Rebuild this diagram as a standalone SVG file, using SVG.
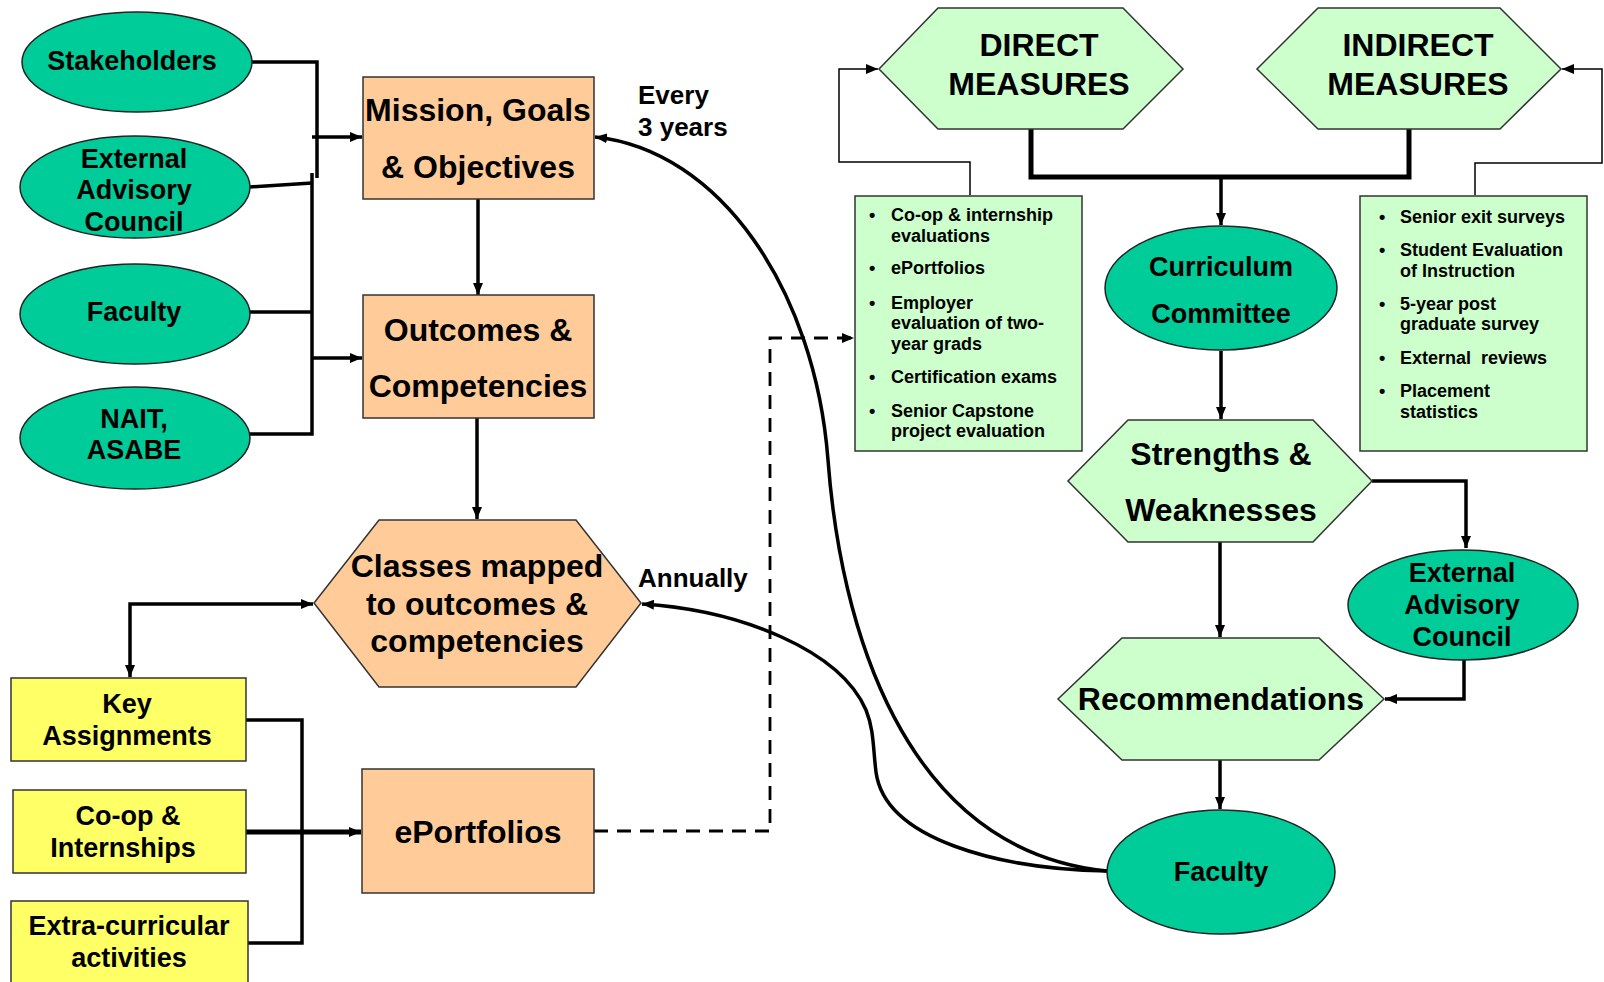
<svg xmlns="http://www.w3.org/2000/svg" width="1604" height="982" viewBox="0 0 1604 982">
<defs>
<style>
.t{font-family:"Liberation Sans",Arial,sans-serif;font-weight:bold;fill:#000;text-anchor:middle}
.l{font-family:"Liberation Sans",Arial,sans-serif;font-weight:bold;fill:#000;font-size:18px}
.lb{font-family:"Liberation Sans",Arial,sans-serif;font-weight:bold;fill:#000;font-size:26px}
.teal{fill:#00CC99;stroke:#222;stroke-width:1.5}
.peach{fill:#FFCC99;stroke:#333;stroke-width:1.5}
.green{fill:#CCFFCC;stroke:#333;stroke-width:1.5}
.yellow{fill:#FFFF66;stroke:#333;stroke-width:1.5}
.c{stroke:#000;stroke-width:3.5;fill:none}
.ck{stroke:#000;stroke-width:5;fill:none}
.cn{stroke:#000;stroke-width:1.5;fill:none}
.cd{stroke:#000;stroke-width:2.8;fill:none;stroke-dasharray:14 9}
</style>
<marker id="ah" viewBox="0 0 12 10" refX="12" refY="5" markerWidth="12" markerHeight="10" markerUnits="userSpaceOnUse" orient="auto-start-reverse">
<path d="M0,0 L12,5 L0,10 z" fill="#000"/>
</marker>
</defs>
<rect width="1604" height="982" fill="#fff"/>

<g id="connectors">
<polyline class="c" points="252,62 317,62 317,178"/>
<polyline class="c" points="250,187 312,183"/>
<line class="c" x1="250" y1="312" x2="312" y2="312"/>
<polyline class="c" points="250,434 312,434 312,173"/>
<line class="c" x1="312" y1="137" x2="362" y2="137" marker-end="url(#ah)"/>
<line class="c" x1="312" y1="358" x2="362" y2="358" marker-end="url(#ah)"/>
<line class="c" x1="478" y1="199" x2="478" y2="295" marker-end="url(#ah)"/>
<line class="c" x1="477" y1="418" x2="477" y2="519" marker-end="url(#ah)"/>
<polyline class="c" points="130,677 130,604 313,604" marker-start="url(#ah)" marker-end="url(#ah)"/>
<polyline class="c" points="246,720 302,720 302,943 248,943"/>
<line class="ck" x1="246" y1="832" x2="361" y2="832" marker-end="url(#ah)"/>
<polyline class="cd" points="594,831 770,831 770,338 854,338" marker-end="url(#ah)"/>
<polyline class="ck" points="1031,129 1031,177 1409,177 1409,129"/>
<line class="c" x1="1221" y1="177" x2="1221" y2="225" marker-end="url(#ah)"/>
<line class="c" x1="1221" y1="351" x2="1221" y2="419" marker-end="url(#ah)"/>
<polyline class="c" points="1372,481 1466,481 1466,548" marker-end="url(#ah)"/>
<line class="c" x1="1220" y1="542" x2="1220" y2="637" marker-end="url(#ah)"/>
<polyline class="c" points="1464,660 1464,699 1385,699" marker-end="url(#ah)"/>
<line class="c" x1="1220" y1="760" x2="1220" y2="809" marker-end="url(#ah)"/>
<polyline class="cn" points="970,195 970,162 839,162 839,69 878,69" marker-end="url(#ah)"/>
<polyline class="cn" points="1475,195 1475,163 1602,163 1602,69 1562,69" marker-end="url(#ah)"/>
<path class="c" d="M1107,871 C900,850 840,620 828,460 C815,290 720,150 595,137" marker-end="url(#ah)"/>
<path class="c" d="M1107,871 C1000,869 885,840 876,772 C873,748 874,730 866,710 C840,650 740,610 642,604" marker-end="url(#ah)"/>
</g>

<g id="stakeholders">
<ellipse class="teal" cx="137" cy="62" rx="115" ry="50"/>
<text class="t" x="132" y="70" font-size="27">Stakeholders</text>
</g>
<g id="eac-left">
<ellipse class="teal" cx="135" cy="187" rx="115" ry="51"/>
<text class="t" x="134" y="168" font-size="27">External</text>
<text class="t" x="134" y="199" font-size="27">Advisory</text>
<text class="t" x="134" y="231" font-size="27">Council</text>
</g>
<g id="faculty-left">
<ellipse class="teal" cx="135" cy="314" rx="115" ry="50"/>
<text class="t" x="134" y="321" font-size="27">Faculty</text>
</g>
<g id="nait">
<ellipse class="teal" cx="135" cy="438" rx="115" ry="51"/>
<text class="t" x="134" y="428" font-size="27">NAIT,</text>
<text class="t" x="134" y="459" font-size="27">ASABE</text>
</g>

<g id="mission">
<rect class="peach" x="363" y="77" width="231" height="122"/>
<text class="t" x="478" y="121" font-size="32">Mission, Goals</text>
<text class="t" x="478" y="178" font-size="32">&amp; Objectives</text>
</g>
<g id="outcomes">
<rect class="peach" x="363" y="295" width="231" height="123"/>
<text class="t" x="478" y="341" font-size="32">Outcomes &amp;</text>
<text class="t" x="478" y="397" font-size="32">Competencies</text>
</g>
<g id="classes">
<polygon class="peach" points="379,520 576,520 641,603 576,687 379,687 314,603"/>
<text class="t" x="477" y="577" font-size="32">Classes mapped</text>
<text class="t" x="477" y="615" font-size="32">to outcomes &amp;</text>
<text class="t" x="477" y="652" font-size="32">competencies</text>
</g>
<g id="eportfolios">
<rect class="peach" x="362" y="769" width="232" height="124"/>
<text class="t" x="478" y="843" font-size="32">ePortfolios</text>
</g>

<g id="key-assignments">
<rect class="yellow" x="11" y="678" width="235" height="83"/>
<text class="t" x="127" y="713" font-size="27">Key</text>
<text class="t" x="127" y="745" font-size="27">Assignments</text>
</g>
<g id="coop">
<rect class="yellow" x="13" y="790" width="233" height="83"/>
<text class="t" x="128" y="825" font-size="27">Co-op &amp;</text>
<text class="t" x="123" y="857" font-size="27">Internships</text>
</g>
<g id="extracurricular">
<rect class="yellow" x="11" y="901" width="237" height="90"/>
<text class="t" x="129" y="935" font-size="27">Extra-curricular</text>
<text class="t" x="129" y="967" font-size="27">activities</text>
</g>

<g id="labels">
<text class="lb" x="638" y="104">Every</text>
<text class="lb" x="638" y="136">3 years</text>
<text class="lb" x="638" y="587">Annually</text>
</g>

<g id="direct-measures">
<polygon class="green" points="938,8 1123,8 1183,69 1123,129 938,129 879,69"/>
<text class="t" x="1039" y="56" font-size="32">DIRECT</text>
<text class="t" x="1039" y="95" font-size="32">MEASURES</text>
</g>
<g id="indirect-measures">
<polygon class="green" points="1318,8 1500,8 1561,69 1500,129 1318,129 1257,69"/>
<text class="t" x="1418" y="56" font-size="32">INDIRECT</text>
<text class="t" x="1418" y="95" font-size="32">MEASURES</text>
</g>

<g id="direct-list">
<rect class="green" x="855" y="196" width="227" height="255"/>
<text class="l" x="869" y="221">•</text>
<text class="l" x="891" y="221">Co-op &amp; internship</text>
<text class="l" x="891" y="242">evaluations</text>
<text class="l" x="869" y="274">•</text>
<text class="l" x="891" y="274">ePortfolios</text>
<text class="l" x="869" y="309">•</text>
<text class="l" x="891" y="309">Employer</text>
<text class="l" x="891" y="329">evaluation of two-</text>
<text class="l" x="891" y="350">year grads</text>
<text class="l" x="869" y="383">•</text>
<text class="l" x="891" y="383">Certification exams</text>
<text class="l" x="869" y="417">•</text>
<text class="l" x="891" y="417">Senior Capstone</text>
<text class="l" x="891" y="437">project evaluation</text>
</g>
<g id="indirect-list">
<rect class="green" x="1360" y="196" width="227" height="255"/>
<text class="l" x="1379" y="223">•</text>
<text class="l" x="1400" y="223">Senior exit surveys</text>
<text class="l" x="1379" y="256">•</text>
<text class="l" x="1400" y="256">Student Evaluation</text>
<text class="l" x="1400" y="277">of Instruction</text>
<text class="l" x="1379" y="310">•</text>
<text class="l" x="1400" y="310">5-year post</text>
<text class="l" x="1400" y="330">graduate survey</text>
<text class="l" x="1379" y="364">•</text>
<text class="l" x="1400" y="364" xml:space="preserve">External  reviews</text>
<text class="l" x="1379" y="397">•</text>
<text class="l" x="1400" y="397">Placement</text>
<text class="l" x="1400" y="418">statistics</text>
</g>

<g id="curriculum-committee">
<ellipse class="teal" cx="1221" cy="288" rx="116" ry="62"/>
<text class="t" x="1221" y="276" font-size="27">Curriculum</text>
<text class="t" x="1221" y="323" font-size="27">Committee</text>
</g>
<g id="strengths-weaknesses">
<polygon class="green" points="1128,420 1313,420 1372,481 1313,542 1128,542 1068,481"/>
<text class="t" x="1221" y="465" font-size="32">Strengths &amp;</text>
<text class="t" x="1221" y="521" font-size="32">Weaknesses</text>
</g>
<g id="eac-right">
<ellipse class="teal" cx="1463" cy="605" rx="115" ry="55"/>
<text class="t" x="1462" y="582" font-size="27">External</text>
<text class="t" x="1462" y="614" font-size="27">Advisory</text>
<text class="t" x="1462" y="646" font-size="27">Council</text>
</g>
<g id="recommendations">
<polygon class="green" points="1122,638 1319,638 1384,699 1319,760 1122,760 1058,699"/>
<text class="t" x="1221" y="710" font-size="32">Recommendations</text>
</g>
<g id="faculty-right">
<ellipse class="teal" cx="1221" cy="872" rx="114" ry="62"/>
<text class="t" x="1221" y="881" font-size="27">Faculty</text>
</g>
</svg>
